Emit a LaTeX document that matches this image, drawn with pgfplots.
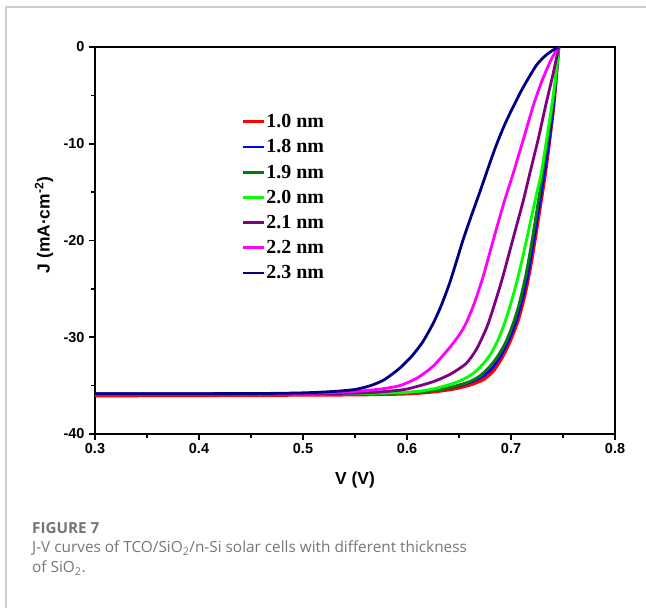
\documentclass[border=0pt]{standalone}
\usepackage{pgfplots}
\pgfplotsset{compat=1.18}
\usepackage{fontspec}
\setmainfont{Liberation Sans}
\newfontfamily\serifb{Liberation Serif}
\newfontfamily\capfont{Open Sans}
\definecolor{navyc}{RGB}{0,0,128}
\definecolor{dgreen}{RGB}{0,128,0}
\definecolor{bgreen}{RGB}{0,255,0}
\definecolor{purp}{RGB}{128,0,128}
\definecolor{magc}{RGB}{255,0,255}
\definecolor{capgray}{RGB}{118,118,118}
\definecolor{framegray}{RGB}{205,205,205}
\begin{document}
\begin{tikzpicture}[x=1bp,y=1bp]
\useasboundingbox (0,0) rectangle (646,608);
\draw[framegray, line width=1.2bp] (6,0) -- (6,601) -- (646,601);
\begin{axis}[
  at={(95bp,174bp)}, anchor=south west,
  scale only axis, width=520bp, height=387bp,
  xmin=0.3, xmax=0.8, ymin=-40, ymax=0,
  xtick={0.3,0.4,0.5,0.6,0.7,0.8},
  ytick={-40,-30,-20,-10,0},
  minor x tick num=1, minor y tick num=1,
  tick align=outside,
  major tick length=6bp, minor tick length=4bp,
  axis line style={line width=1.8bp},
  every tick/.style={line width=1.6bp, black},
  xtick pos=bottom, ytick pos=left,
  /pgf/number format/assume math mode=true,
  xticklabel style={font=\fontsize{14.5}{16}\selectfont\bfseries, /pgf/number format/fixed, /pgf/number format/precision=1, /pgf/number format/fixed zerofill},
  yticklabel style={font=\fontsize{14.5}{16}\selectfont\bfseries, xshift=-1bp},
  xlabel={V (V)},
  ylabel={J (mA·cm\textsuperscript{-2})},
  xlabel style={font=\fontsize{17.5}{19}\selectfont\bfseries, at={(axis description cs:0.5,-0.119)}, anchor=center},
  ylabel style={font=\fontsize{17.5}{19}\selectfont\bfseries, at={(axis description cs:-0.098,0.54)}, anchor=center},
  legend style={at={(axis description cs:0.275,0.834)}, anchor=north west, draw=none, fill=none,
    font=\fontsize{20}{22}\selectfont\serifb\bfseries, row sep=8.5bp,
    nodes={inner sep=1bp}},
  legend cell align=left,
  legend image code/.code={\draw[#1] (0bp,0bp) -- (21bp,0bp);},
]
% 1.0 nm
\addplot[red, line width=3.2bp, smooth, tension=0.4] coordinates {
(0.300,-36.05) (0.450,-36.00) (0.550,-35.95) (0.600,-35.85) (0.625,-35.65) (0.645,-35.35) (0.660,-34.95) (0.673,-34.4) (0.683,-33.5) (0.692,-32.0) (0.700,-30.2) (0.707,-28.2) (0.713,-25.8) (0.718,-23.2) (0.723,-20.0) (0.728,-16.6) (0.733,-13.1) (0.737,-9.8) (0.741,-6.2) (0.7435,-3.2) (0.7455,0)};
\addlegendentry{1.0 nm}
% 1.8 nm
\addplot[blue, line width=2.8bp, smooth, tension=0.4] coordinates {
(0.300,-35.85) (0.450,-35.83) (0.550,-35.80) (0.600,-35.70) (0.630,-35.45) (0.650,-35.0) (0.662,-34.6) (0.672,-34.1) (0.681,-33.3) (0.689,-32.1) (0.697,-30.5) (0.704,-28.6) (0.710,-26.4) (0.716,-23.6) (0.721,-20.5) (0.726,-17.2) (0.731,-13.7) (0.736,-10.2) (0.740,-6.8) (0.743,-3.6) (0.746,0)};
\addlegendentry{1.8 nm}
% 1.9 nm
\addplot[dgreen, line width=2.8bp, smooth, tension=0.4] coordinates {
(0.300,-35.90) (0.450,-35.88) (0.550,-35.84) (0.600,-35.75) (0.630,-35.45) (0.648,-35.0) (0.660,-34.6) (0.670,-34.0) (0.679,-33.1) (0.687,-32.0) (0.695,-30.5) (0.702,-28.6) (0.708,-26.5) (0.714,-23.7) (0.719,-20.8) (0.724,-17.5) (0.729,-14.0) (0.734,-10.4) (0.739,-6.8) (0.743,-3.4) (0.746,0)};
\addlegendentry{1.9 nm}
% 2.0 nm
\addplot[bgreen, line width=2.8bp, smooth, tension=0.4] coordinates {
(0.300,-35.90) (0.450,-35.88) (0.550,-35.83) (0.600,-35.70) (0.625,-35.35) (0.645,-34.75) (0.656,-34.25) (0.664,-33.7) (0.672,-32.9) (0.680,-31.8) (0.687,-30.4) (0.693,-28.8) (0.699,-26.8) (0.705,-24.5) (0.710,-22.3) (0.715,-19.9) (0.720,-17.4) (0.725,-15.0) (0.729,-13.1) (0.734,-9.7) (0.739,-6.2) (0.743,-3.0) (0.746,0)};
\addlegendentry{2.0 nm}
% 2.1 nm
\addplot[purp, line width=2.8bp, smooth, tension=0.4] coordinates {
(0.300,-35.90) (0.450,-35.88) (0.550,-35.78) (0.580,-35.6) (0.600,-35.35) (0.625,-34.6) (0.642,-33.8) (0.657,-32.7) (0.667,-31.2) (0.677,-28.9) (0.685,-26.3) (0.692,-23.8) (0.699,-21.0) (0.705,-18.6) (0.712,-15.8) (0.718,-13.1) (0.726,-9.6) (0.733,-6.2) (0.740,-3.0) (0.746,0)};
\addlegendentry{2.1 nm}
% 2.2 nm
\addplot[magc, line width=2.8bp, smooth, tension=0.4] coordinates {
(0.300,-35.88) (0.450,-35.85) (0.520,-35.75) (0.550,-35.6) (0.575,-35.35) (0.593,-35.0) (0.610,-34.2) (0.625,-33.0) (0.640,-31.2) (0.650,-29.8) (0.657,-28.5) (0.665,-26.4) (0.673,-23.8) (0.680,-21.1) (0.687,-18.4) (0.694,-15.8) (0.702,-13.1) (0.712,-9.5) (0.721,-6.2) (0.728,-4.0) (0.734,-2.4) (0.740,-1.0) (0.746,0)};
\addlegendentry{2.2 nm}
% 2.3 nm
\addplot[navyc, line width=2.8bp, smooth, tension=0.4] coordinates {
(0.300,-35.85) (0.450,-35.82) (0.500,-35.75) (0.530,-35.6) (0.550,-35.4) (0.565,-35.0) (0.578,-34.4) (0.593,-33.2) (0.605,-31.9) (0.615,-30.5) (0.625,-28.6) (0.633,-26.7) (0.641,-24.4) (0.648,-22.0) (0.654,-19.9) (0.662,-17.4) (0.670,-15.0) (0.678,-12.5) (0.686,-10.1) (0.694,-8.0) (0.702,-6.2) (0.710,-4.5) (0.718,-3.0) (0.725,-1.8) (0.733,-0.9) (0.740,-0.35) (0.746,0)};
\addlegendentry{2.3 nm}
\end{axis}
\node[anchor=base west, inner sep=0, text=capgray, font=\capfont\fontsize{15.3}{18}\selectfont\bfseries] at (32,74) {FIGURE 7};
\node[anchor=base west, inner sep=0, text=capgray, font=\capfont\fontsize{15.4}{18}\selectfont] at (32,55) {J-V curves of TCO/SiO\textsubscript{2}/n-Si solar cells with different thickness};
\node[anchor=base west, inner sep=0, text=capgray, font=\capfont\fontsize{15.4}{18}\selectfont] at (32,35) {of SiO\textsubscript{2}.};
\end{tikzpicture}
\end{document}
